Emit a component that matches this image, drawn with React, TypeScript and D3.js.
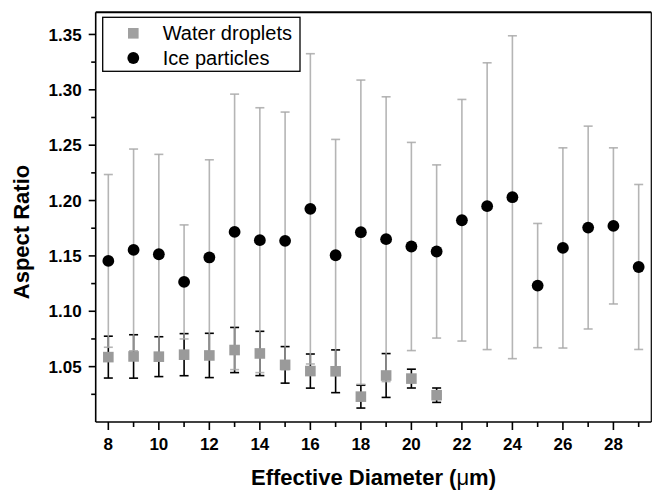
import React from "react";
import * as d3 from "d3";

const diameters = [8, 9, 10, 11, 12, 13, 14, 15, 16, 17, 18, 19, 20, 21, 22, 23, 24, 25, 26, 27, 28, 29];
const iceMean = [1.1455, 1.1554, 1.1515, 1.1265, 1.1486, 1.1717, 1.1642, 1.1636, 1.1925, 1.1506, 1.1714, 1.1651, 1.1585, 1.154, 1.1822, 1.1949, 1.203, 1.1232, 1.1572, 1.1756, 1.1771, 1.14];
const iceSd = [0.078, 0.0911, 0.0902, 0.0515, 0.0882, 0.1244, 0.1196, 0.1163, 0.1401, 0.1046, 0.1374, 0.1286, 0.094, 0.0782, 0.1091, 0.1295, 0.1458, 0.0561, 0.0904, 0.0916, 0.0705, 0.0745];

const waterDiameters = [8, 9, 10, 11, 12, 13, 14, 15, 16, 17, 18, 19, 20, 21];
const waterMean = [1.0586, 1.0592, 1.059, 1.0608, 1.0601, 1.065, 1.0619, 1.0516, 1.046, 1.0458, 1.0229, 1.042, 1.0392, 1.0242];
const waterSd = [0.0189, 0.0196, 0.018, 0.019, 0.02, 0.0204, 0.02, 0.0165, 0.0154, 0.0193, 0.0103, 0.0198, 0.0085, 0.0065];

const yMajorTicks = [1.05, 1.1, 1.15, 1.2, 1.25, 1.3, 1.35];
const yMinorTicks = [1.025, 1.075, 1.125, 1.175, 1.225, 1.275, 1.325];
const xMajorTicks = [8, 10, 12, 14, 16, 18, 20, 22, 24, 26, 28];
const xMinorTicks = [9, 11, 13, 15, 17, 19, 21, 23, 25, 27, 29];

const legendLabels = ["Water droplets", "Ice particles"];

const W = 652;
const H = 490;
const left = 95.7;
const right = 651.3;
const top = 12.3;
const bottom = 422;

export default function App() {
  const x = d3.scaleLinear().domain([7.5, 29.5]).range([left, right]);
  const y = d3.scaleLinear().domain([1.0, 1.37]).range([bottom, top]);
  const font = "Arial, 'Liberation Sans', Helvetica, sans-serif";
  const cap = 4.5;

  return (
    <svg
      width={W}
      height={H}
      style={{ position: "absolute", left: 0, top: 0, background: "#fff" }}
      fontFamily={font}
    >
      <rect x={0} y={0} width={W} height={H} fill="#fff" />

      {/* water droplet error bars (black) */}
      {waterDiameters.map((d, i) => {
        const cx = x(d);
        const y1 = y(waterMean[i] + waterSd[i]);
        const y2 = y(waterMean[i] - waterSd[i]);
        return (
          <g key={"we" + i} stroke="#000" strokeWidth={1.6}>
            <line x1={cx} x2={cx} y1={y1} y2={y2} />
            <line x1={cx - cap} x2={cx + cap} y1={y1} y2={y1} />
            <line x1={cx - cap} x2={cx + cap} y1={y2} y2={y2} />
          </g>
        );
      })}

      {/* ice particle error bars (gray) */}
      {diameters.map((d, i) => {
        const cx = x(d);
        const y1 = y(iceMean[i] + iceSd[i]);
        const y2 = y(iceMean[i] - iceSd[i]);
        return (
          <g key={"ie" + i} stroke="#a8a8a8" strokeWidth={1.6} strokeOpacity={0.85}>
            <line x1={cx} x2={cx} y1={y1} y2={y2} />
            <line x1={cx - cap} x2={cx + cap} y1={y1} y2={y1} />
            <line x1={cx - cap} x2={cx + cap} y1={y2} y2={y2} />
          </g>
        );
      })}

      {/* water droplet squares */}
      {waterDiameters.map((d, i) => (
        <rect
          key={"ws" + i}
          x={x(d) - 5.3}
          y={y(waterMean[i]) - 5.3}
          width={10.6}
          height={10.6}
          fill="#9a9a9a"
        />
      ))}

      {/* ice particle circles */}
      {diameters.map((d, i) => (
        <circle key={"ic" + i} cx={x(d)} cy={y(iceMean[i])} r={5.9} fill="#000" />
      ))}

      {/* frame */}
      <line x1={left} x2={right} y1={top} y2={top} stroke="#000" strokeWidth={2} />
      <line x1={right} x2={right} y1={top} y2={bottom} stroke="#000" strokeWidth={1.2} />
      <line x1={left} x2={left} y1={top} y2={bottom} stroke="#000" strokeWidth={1.6} />
      <line x1={left} x2={right} y1={bottom} y2={bottom} stroke="#000" strokeWidth={1.6} />

      {/* y ticks */}
      {yMajorTicks.map((t) => (
        <g key={"ym" + t}>
          <line x1={left - 7} x2={left} y1={y(t)} y2={y(t)} stroke="#000" strokeWidth={1.6} />
          <text
            x={left - 14}
            y={y(t)}
            dy="0.36em"
            textAnchor="end"
            fontSize={17}
            fontWeight="bold"
            fill="#000"
          >
            {d3.format(".2f")(t)}
          </text>
        </g>
      ))}
      {yMinorTicks.map((t) => (
        <line key={"yn" + t} x1={left - 4.5} x2={left} y1={y(t)} y2={y(t)} stroke="#000" strokeWidth={1.6} />
      ))}

      {/* x ticks */}
      {xMajorTicks.map((t) => (
        <g key={"xm" + t}>
          <line x1={x(t)} x2={x(t)} y1={bottom} y2={bottom + 8} stroke="#000" strokeWidth={1.6} />
          <text
            x={x(t)}
            y={449.5}
            textAnchor="middle"
            fontSize={17}
            fontWeight="bold"
            fill="#000"
          >
            {t}
          </text>
        </g>
      ))}
      {xMinorTicks.map((t) => (
        <line key={"xn" + t} x1={x(t)} x2={x(t)} y1={bottom} y2={bottom + 5} stroke="#000" strokeWidth={1.6} />
      ))}

      {/* axis titles */}
      <text
        x={(left + right) / 2}
        y={484.5}
        textAnchor="middle"
        fontSize={22}
        fontWeight="bold"
        fill="#000"
      >
        Effective Diameter (<tspan fontWeight="normal">μ</tspan>m)
      </text>
      <text
        transform={`translate(28.5, 232) rotate(-90)`}
        textAnchor="middle"
        fontSize={22}
        fontWeight="bold"
        fill="#000"
      >
        Aspect Ratio
      </text>

      {/* legend */}
      <rect x={102.7} y={17.3} width={197.3} height={54} fill="#fff" stroke="#000" strokeWidth={1.3} />
      <rect x={128} y={28} width={10.6} height={10.6} fill="#a0a0a0" />
      <circle cx={133.3} cy={58} r={5.9} fill="#000" />
      <text x={162.7} y={40} fontSize={20} fill="#000">
        {legendLabels[0]}
      </text>
      <text x={162.7} y={64.5} fontSize={20} fill="#000">
        {legendLabels[1]}
      </text>
    </svg>
  );
}
